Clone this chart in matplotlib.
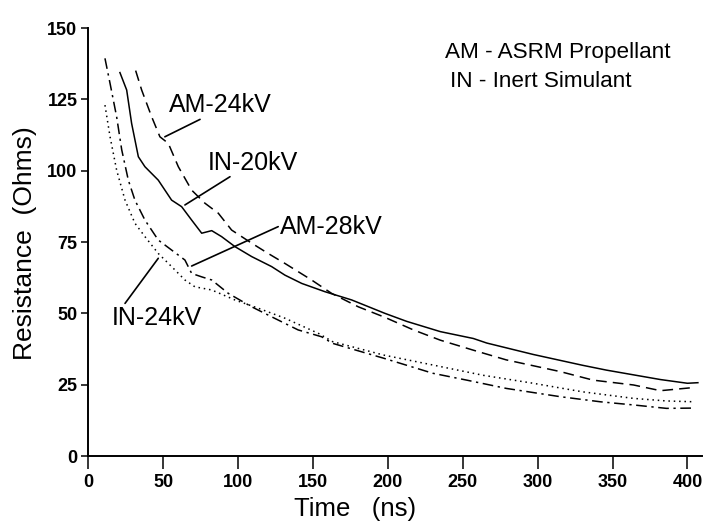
import numpy as np
import matplotlib
matplotlib.use("Agg")
import matplotlib.pyplot as plt

plt.rcParams['font.family'] = ['Liberation Sans', 'DejaVu Sans']

# IN-20kV (solid)
in20_t = [21, 25.5, 28.8, 33.3, 37.7, 46.6, 55.5, 62.2, 68.9, 75.6, 82.3, 88.9, 97.8, 109, 122.3,
          131.2, 142.4, 157.9, 175.8, 198, 212.5, 235, 257, 266, 297, 330, 346, 382, 400, 407]
in20_r = [134.4, 128.3, 116.6, 104.9, 101.4, 96.7, 89.7, 87.4, 82.7, 78.1, 79, 76.9, 73.4, 69.9, 66.4,
          63.4, 60.5, 57.6, 54.7, 50.0, 47.2, 43.6, 41.2, 39.6, 35.6, 31.8, 30.1, 26.8, 25.5, 25.7]

# AM-24kV (dashed)
am24_t = [31.5, 35.5, 42.2, 47.7, 53.3, 60, 68.9, 77.8, 86.7, 95.6, 109, 120, 131.2, 149, 162.4,
          180.2, 198, 217, 235, 257, 279, 315, 337, 364, 382, 404]
am24_r = [135.1, 128.3, 118.9, 111.9, 109.6, 101.4, 93.2, 88.6, 85.1, 79.2, 74.6, 71, 67.5, 61.7, 57,
          52.3, 48.6, 44.2, 40.6, 37.1, 33.7, 29.6, 26.6, 24.9, 22.9, 24.0]

# AM-28kV (dash-dot)
am28_t = [11, 14.4, 18.8, 22.2, 26.6, 31, 37.7, 46.6, 55.5, 64.4, 68.9, 75.6, 82.3, 93.4, 109,
          122.3, 140, 155.7, 163, 197, 230, 252.6, 279, 315, 342, 364, 386, 404]
am28_r = [139.4, 130.6, 118.9, 107.3, 96.7, 89.7, 82.7, 75.7, 72.2, 68.7, 64, 62.8, 61.7, 57, 52.3,
          48.8, 44.2, 41.8, 39.5, 34.3, 29.0, 26.6, 23.7, 20.8, 19.0, 17.9, 16.7, 16.8]

# IN-24kV (dotted)
in24_t = [11, 14.4, 18.8, 24.4, 31, 37.7, 46.6, 55.5, 64.4, 71.1, 82.3, 97.8, 113.4, 131.2, 153.5,
          163, 197, 230, 263.5, 297, 330, 364, 386, 405]
in24_r = [123, 111.9, 100.2, 89.7, 81.6, 76.9, 71, 66.4, 61.7, 59.3, 58.2, 54.7, 51.8, 48.3, 43,
          40.1, 35.4, 31.9, 28.3, 25.5, 22.5, 20.2, 19.3, 19.0]

# curve labels: text position and leader line (label end -> curve end)
labels = ['AM-24kV', 'IN-20kV', 'AM-28kV', 'IN-24kV']
label_xy = [(87.8, 123), (110, 102.7), (162.4, 80.4), (45.5, 48.5)]
leader_from = [(74.5, 118), (94.5, 97.9), (126.7, 80.4), (24.4, 53.5)]
leader_to = [(51, 111.9), (64.4, 88), (68.9, 66.6), (46.6, 69.3)]

fig = plt.figure(figsize=(7.04, 5.27), dpi=100)
ax = fig.add_axes([0.1257, 0.1347, 0.872, 0.812])

ax.plot(in20_t, in20_r, color='black', lw=1.1, ls='-')
ax.plot(am24_t, am24_r, color='black', lw=1.1, ls=(0, (7, 4)))
ax.plot(am28_t, am28_r, color='black', lw=1.1, ls=(0, (7, 3, 1.5, 3)))
ax.plot(in24_t, in24_r, color='black', lw=1.1, ls=(0, (1, 2.5)))

ax.set_xlim(0, 410)
ax.set_ylim(0, 150)
ax.set_xticks(np.arange(0, 401, 50))
ax.set_yticks(np.arange(0, 151, 25))
for s in ['top', 'right']:
    ax.spines[s].set_visible(False)
for s in ['left', 'bottom']:
    ax.spines[s].set_linewidth(1.4)
ax.tick_params(axis='x', direction='out', length=9, width=1.1, labelsize=13, pad=4)
ax.tick_params(axis='y', direction='out', length=5, width=1.1, labelsize=13, pad=3)
for lab in ax.get_xticklabels() + ax.get_yticklabels():
    lab.set_fontweight('bold')

for name, pos, p0, p1 in zip(labels, label_xy, leader_from, leader_to):
    ax.text(pos[0], pos[1], name, fontsize=18, ha='center', va='center')
    ax.annotate('', xy=p1, xytext=p0,
                arrowprops=dict(arrowstyle='-', color='black', lw=1.2, shrinkA=0, shrinkB=0))

fig.text(0.632, 0.901, 'AM - ASRM Propellant', fontsize=16.2, ha='left', va='center')
fig.text(0.639, 0.846, 'IN - Inert Simulant', fontsize=16.2, ha='left', va='center')

fig.text(0.504, 0.035, 'Time   (ns)', fontsize=18.5, ha='center', va='center')
fig.text(0.036, 0.539, 'Resistance  (Ohms)', fontsize=19, ha='center', va='center',
         rotation=90)

fig.savefig('out.png', dpi=100)
